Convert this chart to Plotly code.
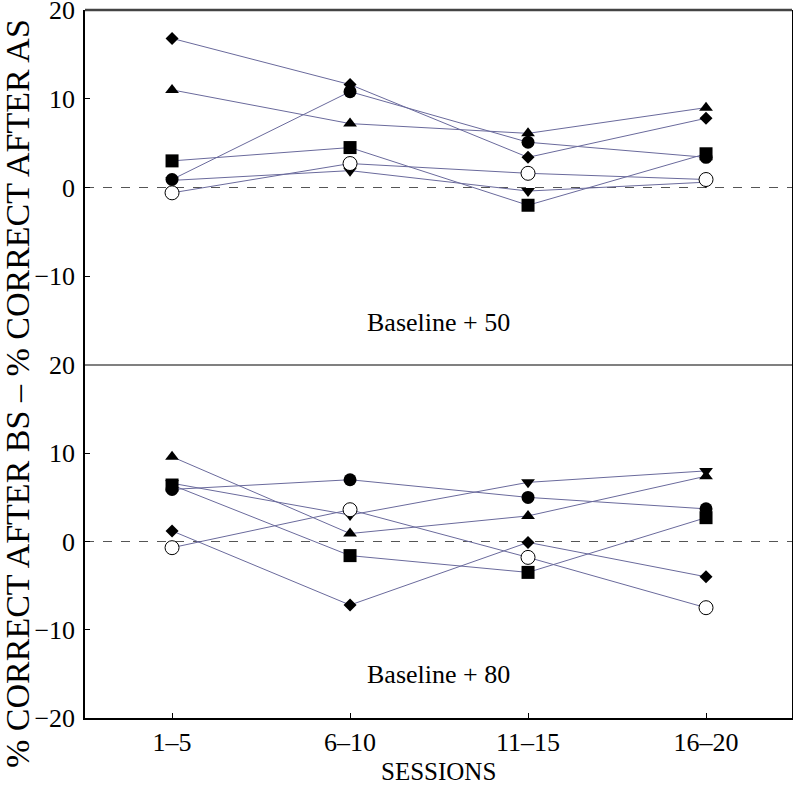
import plotly.graph_objects as go
from plotly.subplots import make_subplots

sessions = ["1–5", "6–10", "11–15", "16–20"]
x_pos = [1, 2, 3, 4]

# Baseline + 50 (top panel)
top_diamond = [16.8, 11.6, 3.4, 7.8]
top_triangle = [11.0, 7.2, 6.1, 9.0]
top_circle = [0.9, 10.8, 5.1, 3.4]
top_square = [3.0, 4.5, -2.0, 3.8]
top_open = [-0.6, 2.7, 1.6, 0.9]
top_down = [0.8, 1.9, -0.4, 0.6]

# Baseline + 80 (bottom panel)
bot_diamond = [1.2, -7.2, -0.1, -4.0]
bot_triangle = [9.6, 0.9, 2.9, 7.4]
bot_circle = [5.9, 7.0, 5.0, 3.7]
bot_square = [6.4, -1.6, -3.5, 2.7]
bot_open = [-0.7, 3.6, -1.8, -7.5]
bot_down = [6.6, 3.0, 6.7, 8.0]

LINE = "#6a6a9c"
FONT = "Liberation Serif"

fig = make_subplots(rows=2, cols=1, shared_xaxes=True, vertical_spacing=0)

series = [
    ("triangle-down", 12, "black", (top_down, bot_down)),
    ("diamond", 10, "black", (top_diamond, bot_diamond)),
    ("triangle-up", 12, "black", (top_triangle, bot_triangle)),
    ("square", 13, "black", (top_square, bot_square)),
    ("circle", 13, "black", (top_circle, bot_circle)),
    ("circle", 14, "white", (top_open, bot_open)),
]

for sym, size, fill, (tv, bv) in series:
    for row, vals in ((1, tv), (2, bv)):
        fig.add_trace(go.Scatter(
            x=x_pos, y=vals, mode="lines+markers",
            line=dict(color=LINE, width=1),
            marker=dict(symbol=sym, size=size, color=fill,
                        line=dict(color="black", width=1 if fill == "white" else 0)),
            showlegend=False, cliponaxis=False,
        ), row=row, col=1)

split = 353 / 708
axis_common = dict(linecolor="black", linewidth=1.5,
                   ticks="inside", ticklen=5, tickcolor="black", showgrid=False,
                   zeroline=False, automargin=False, ticklabeloverflow="allow",
                   tickfont=dict(family=FONT, size=26, color="black"))

fig.update_layout(
    width=793, height=785,
    margin=dict(l=85, r=1, t=10, b=67, autoexpand=False),
    plot_bgcolor="white", paper_bgcolor="white",
    font=dict(family=FONT, color="black"),
)
fig.update_xaxes(range=[0.511, 4.483], tickvals=x_pos, ticktext=sessions, **axis_common)
fig.update_xaxes(showticklabels=False, showline=False, ticks="", row=1, col=1)
fig.update_xaxes(ticklabelstandoff=0, showline=True, mirror=False, row=2, col=1)
fig.update_yaxes(range=[-20, 20], showline=True, mirror=True, **axis_common)
fig.update_yaxes(domain=[split, 1], tickvals=[-10, 0, 10, 20], ticklabelstandoff=3, row=1, col=1)
fig.update_yaxes(domain=[0, split], tickvals=[-20, -10, 0, 10, 20], ticklabelstandoff=3, row=2, col=1)

# zero reference lines
for yref in ("y", "y2"):
    fig.add_shape(type="line", xref="paper", yref=yref, x0=0, x1=1, y0=0, y1=0,
                  line=dict(color="#555555", width=1.2, dash="dash"), layer="below")
# middle divider and top border
fig.add_shape(type="line", xref="paper", yref="paper", x0=0, x1=1, y0=split, y1=split,
              line=dict(color="#808080", width=1.8))
fig.add_shape(type="line", xref="paper", yref="paper", x0=0, x1=1, y0=1, y1=1,
              line=dict(color="#444444", width=2.5))

fig.add_annotation(text="Baseline + 50", xref="paper", yref="y", x=0.5, y=-15.2,
                   showarrow=False, font=dict(family=FONT, size=26, color="black"))
fig.add_annotation(text="Baseline + 80", xref="paper", yref="y2", x=0.5, y=-15.1,
                   showarrow=False, font=dict(family=FONT, size=26, color="black"))
fig.add_annotation(text="SESSIONS", xref="paper", yref="paper", x=0.5, y=-53 / 708,
                   yanchor="middle", showarrow=False,
                   font=dict(family=FONT, size=25, color="black"))
fig.add_annotation(text="% CORRECT AFTER BS – % CORRECT AFTER AS", xref="paper", yref="paper",
                   x=-68 / 707, y=(718 - 394) / 708, xanchor="center", yanchor="middle",
                   textangle=-90, showarrow=False,
                   font=dict(family=FONT, size=34, color="black"))

fig.write_html("out.html", config={"displayModeBar": False},
               post_script="document.body.style.margin='0';")
